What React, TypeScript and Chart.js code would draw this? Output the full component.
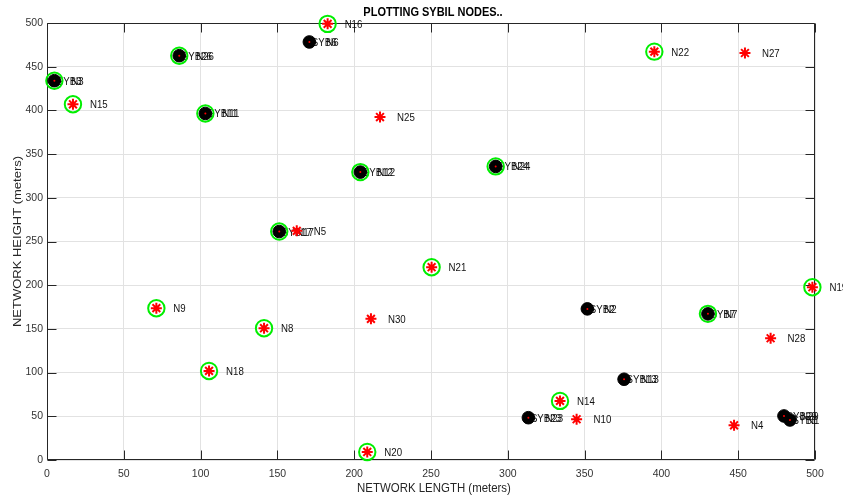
import React, { useEffect, useRef } from 'react';
import { Chart, registerables } from 'chart.js';

Chart.register(...registerables);

// ---- data ----
const nodeIds = [1, 2, 3, 4, 5, 6, 7, 8, 9, 10, 11, 12, 13, 14, 15, 16, 17, 18, 19, 20, 21, 22, 23, 24, 25, 26, 27, 28, 29, 30];
const nodeX = [483.7, 351.8, 4.8, 447.3, 162.6, 170.8, 430.3, 141.3, 71.2, 344.8, 103.1, 204.0, 375.7, 334.0, 16.9, 182.7, 151.2, 105.5, 498.3, 208.5, 250.4, 395.4, 313.4, 292.1, 216.8, 86.1, 454.4, 471.1, 479.8, 210.9];
const nodeY = [45.8, 172.9, 434.0, 39.7, 262.2, 478.3, 167.2, 150.8, 173.7, 46.6, 396.5, 329.4, 92.4, 67.6, 407.0, 499.0, 261.4, 101.9, 197.7, 9.2, 220.6, 467.2, 48.4, 335.9, 392.4, 462.6, 465.7, 139.3, 50.4, 161.5];
const sybilIds = [1, 2, 3, 6, 7, 11, 12, 13, 17, 23, 24, 26, 29];
const ringedIds = [3, 7, 8, 9, 11, 12, 14, 15, 16, 17, 18, 19, 20, 21, 22, 24, 26];
const xTicks = [0, 50, 100, 150, 200, 250, 300, 350, 400, 450, 500];
const yTicks = [0, 50, 100, 150, 200, 250, 300, 350, 400, 450, 500];
const chartTitle = 'PLOTTING SYBIL NODES..';
const xTitle = 'NETWORK LENGTH (meters)';
const yTitle = 'NETWORK HEIGHT (meters)';

const FONT = '"Liberation Sans", Arial, Helvetica, sans-serif';
const SX = 0.88;
const AXIS = '#262626';

function drawText(ctx: CanvasRenderingContext2D, str: string, x: number, y: number, font: string, align: CanvasTextAlign, color: string, rot = 0) {
  ctx.save();
  ctx.translate(x, y);
  if (rot) {
    ctx.rotate(rot);
    ctx.scale(1, SX);
  } else {
    ctx.scale(SX, 1);
  }
  ctx.font = font;
  ctx.textAlign = align;
  ctx.textBaseline = 'middle';
  ctx.fillStyle = color;
  ctx.fillText(str, 0, 0);
  ctx.restore();
}

const decorPlugin = {
  id: 'decor',
  beforeDatasetsDraw(chart: any) {
    const { ctx, chartArea: a, scales } = chart;
    const xs = scales.x;
    const ys = scales.y;
    ctx.save();
    // box and inward ticks
    ctx.strokeStyle = AXIS;
    ctx.lineWidth = 1;
    const L = Math.round(a.left) + 0.5;
    const R = Math.round(a.right) - 0.5;
    const T = Math.round(a.top) + 0.5;
    const B = Math.round(a.bottom) - 0.5;
    ctx.beginPath();
    ctx.rect(L, T, R - L, B - T);
    xTicks.forEach((v) => {
      const px = Math.round(xs.getPixelForValue(v)) + 0.5;
      ctx.moveTo(px, B);
      ctx.lineTo(px, B - 9);
      ctx.moveTo(px, T);
      ctx.lineTo(px, T + 9);
    });
    yTicks.forEach((v) => {
      const py = Math.round(ys.getPixelForValue(v)) + 0.5;
      ctx.moveTo(L, py);
      ctx.lineTo(L + 9, py);
      ctx.moveTo(R, py);
      ctx.lineTo(R - 9, py);
    });
    ctx.stroke();
    // node labels
    const f = '11px ' + FONT;
    nodeIds.forEach((id, i) => {
      const px = xs.getPixelForValue(nodeX[i]);
      const py = ys.getPixelForValue(nodeY[i]) + 1;
      if (sybilIds.includes(id)) {
        drawText(ctx, 'SYB' + id, px + 2.5, py, f, 'left', '#111');
      }
      drawText(ctx, 'N' + id, px + 17, py, f, 'left', '#111');
    });
    ctx.restore();
  },
  afterDraw(chart: any) {
    const { ctx, chartArea: a } = chart;
    const cx = (a.left + a.right) / 2;
    const cy = (a.top + a.bottom) / 2;
    drawText(ctx, chartTitle, cx + 2, 13, 'bold 12.5px ' + FONT, 'center', '#000');
    drawText(ctx, xTitle, cx + 3, 488, '13px ' + FONT, 'center', AXIS);
    drawText(ctx, yTitle, 18, cy, '13px ' + FONT, 'center', AXIS, -Math.PI / 2);
  },
};

export default function App() {
  const ref = useRef<HTMLCanvasElement>(null);

  useEffect(() => {
    if (!ref.current) return;
    const pts = nodeIds.map((id, i) => ({ x: nodeX[i], y: nodeY[i], id }));
    const rings = pts.filter((p) => ringedIds.includes(p.id));
    const normal = pts.filter((p) => !sybilIds.includes(p.id));
    const sybil = pts.filter((p) => sybilIds.includes(p.id));

    const tickFont = { family: FONT, size: 10.5 };
    const chart = new Chart(ref.current, {
      type: 'scatter',
      data: {
        datasets: [
          {
            label: 'centre',
            data: sybil,
            pointStyle: 'circle',
            pointRadius: 1,
            pointBorderWidth: 0,
            pointBackgroundColor: '#ff0000',
            pointBorderColor: '#ff0000',
            clip: false,
            order: 0,
          },
          {
            label: 'sybil',
            data: sybil,
            pointStyle: 'circle',
            pointRadius: 6.3,
            pointBorderWidth: 1,
            pointBackgroundColor: '#000000',
            pointBorderColor: '#000000',
            clip: false,
            order: 1,
          },
          {
            label: 'nodes',
            data: normal,
            pointStyle: 'star',
            pointRadius: 5.5,
            pointBorderWidth: 2,
            pointBorderColor: '#ff0000',
            pointBackgroundColor: '#ff0000',
            clip: false,
            order: 2,
          },
          {
            label: 'rings',
            data: rings,
            pointStyle: 'circle',
            pointRadius: 8.2,
            pointBorderWidth: 2,
            pointBorderColor: '#00ee00',
            pointBackgroundColor: 'rgba(0,0,0,0)',
            clip: false,
            order: 3,
          },
        ] as any,
      },
      options: {
        animation: false,
        responsive: false,
        devicePixelRatio: 1,
        events: [],
        layout: { padding: { top: 23, right: 28, left: 0, bottom: 0 } },
        plugins: {
          legend: { display: false },
          tooltip: { enabled: false },
          title: { display: false },
        },
        scales: {
          x: {
            type: 'linear',
            min: 0,
            max: 500,
            afterBuildTicks: (s: any) => {
              s.ticks = xTicks.map((v) => ({ value: v }));
            },
            afterFit: (s: any) => {
              s.height = 37;
            },
            ticks: { font: tickFont, color: '#333', padding: 8, maxRotation: 0, autoSkip: false },
            grid: { color: '#e2e2e2', drawTicks: false, lineWidth: 1 },
            border: { display: false },
          },
          y: {
            type: 'linear',
            min: 0,
            max: 500,
            afterBuildTicks: (s: any) => {
              s.ticks = yTicks.map((v) => ({ value: v }));
            },
            afterFit: (s: any) => {
              s.width = 47;
            },
            ticks: { font: tickFont, color: '#333', padding: 4, autoSkip: false },
            grid: { color: '#e2e2e2', drawTicks: false, lineWidth: 1 },
            border: { display: false },
          },
        },
      } as any,
      plugins: [decorPlugin],
    });
    return () => chart.destroy();
  }, []);

  return (
    <div style={{ position: 'fixed', left: 0, top: 0, width: 843, height: 497, background: '#fff' }}>
      <canvas ref={ref} width={843} height={497} style={{ display: 'block' }} />
    </div>
  );
}
